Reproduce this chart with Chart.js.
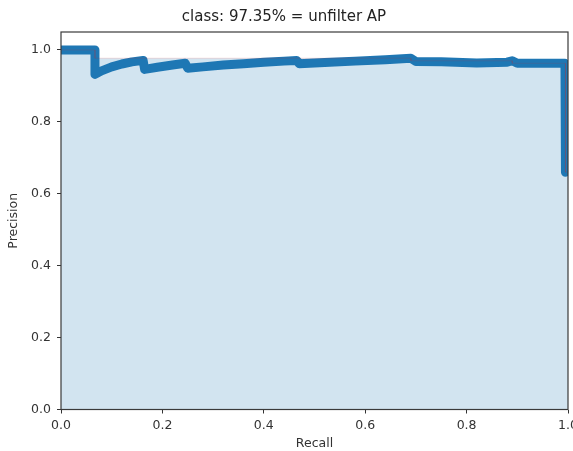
<!DOCTYPE html>
<html>
<head>
<meta charset="utf-8">
<script src="https://cdn.jsdelivr.net/npm/chart.js@4.4.0/dist/chart.umd.min.js"></script>
<style>
  html, body { margin: 0; padding: 0; background: #fff; }
  #wrap { width: 573px; height: 451px; }
</style>
</head>
<body>
<div id="wrap"><canvas id="grafica" width="573" height="451"></canvas></div>
<script>
// ========== DATOS ==========
const titulo = 'class: 97.35% = unfilter AP';

// curva precision-recall
const recall = [0, 0.067, 0.067, 0.08, 0.10, 0.12, 0.14, 0.162, 0.165, 0.19, 0.22, 0.245, 0.25,
  0.28, 0.32, 0.36, 0.40, 0.44, 0.465, 0.47, 0.52, 0.58, 0.64, 0.69, 0.70, 0.75, 0.82,
  0.88, 0.89, 0.90, 0.95, 0.994, 0.995];
const precision = [1.0, 1.0, 0.932, 0.942, 0.953, 0.961, 0.967, 0.971, 0.946, 0.952, 0.958, 0.963, 0.949,
  0.953, 0.958, 0.962, 0.966, 0.969, 0.971, 0.962, 0.965, 0.969, 0.973, 0.977, 0.968, 0.967, 0.964,
  0.966, 0.970, 0.963, 0.963, 0.963, 0.66];

// envolvente (precision interpolada) para el área, en escalones
const recallEnv = [0, 0.067, 0.067, 0.69, 0.69, 0.89, 0.89, 0.995, 0.995, 1.0];
const precisionEnv = [1.0, 1.0, 0.977, 0.977, 0.970, 0.970, 0.963, 0.963, 0.66, 0.66];

const ticksX = [0, 0.2, 0.4, 0.6, 0.8, 1.0];
const ticksY = [0, 0.2, 0.4, 0.6, 0.8, 1.0];

// ========== MARCO DEL GRÁFICO ==========
const marco = {
  id: 'marco',
  afterDatasetsDraw(chart) {
    const { ctx, chartArea: a } = chart;
    ctx.save();
    ctx.strokeStyle = '#3a3a3a';
    ctx.lineWidth = 1.2;
    ctx.strokeRect(a.left, a.top, a.right - a.left, a.bottom - a.top);
    ctx.restore();
  }
};

const fuente = { family: 'DejaVu Sans', size: 12.5 };

new Chart(document.getElementById('grafica'), {
  type: 'line',
  data: {
    datasets: [{
      data: recallEnv.map((r, i) => ({ x: r, y: precisionEnv[i] })),
      fill: 'origin',
      backgroundColor: 'rgba(31, 119, 180, 0.2)',
      borderColor: 'rgba(214, 39, 40, 0.15)',
      borderWidth: 1,
      pointRadius: 0,
      tension: 0,
      clip: 0
    }, {
      data: recall.map((r, i) => ({ x: r, y: precision[i] })),
      borderColor: '#1f77b4',
      borderWidth: 9,
      borderCapStyle: 'round',
      borderJoinStyle: 'round',
      fill: false,
      pointRadius: 0,
      tension: 0,
      clip: 0
    }]
  },
  options: {
    responsive: false,
    animation: false,
    layout: { padding: { left: 0, right: 5, top: 0, bottom: 0 } },
    plugins: {
      legend: { display: false },
      tooltip: { enabled: false },
      title: {
        display: true,
        text: titulo,
        color: '#222',
        font: { family: 'DejaVu Sans', size: 15, weight: 'normal' },
        padding: { top: 8, bottom: 6 }
      }
    },
    scales: {
      x: {
        type: 'linear',
        min: 0,
        max: 1,
        afterFit(s) { s.height = 41.5; s.paddingLeft = 0; s.paddingRight = 0; },
        afterBuildTicks(s) { s.ticks = ticksX.map(v => ({ value: v })); },
        ticks: {
          color: '#333', font: fuente, padding: 5,
          callback: v => v.toFixed(1)
        },
        grid: { drawOnChartArea: false, tickLength: 4, color: '#333' },
        border: { display: false },
        title: { display: true, text: 'Recall', color: '#333', font: fuente, padding: 0 }
      },
      y: {
        type: 'linear',
        min: 0,
        max: 1.05,
        afterFit(s) { s.width = 61; s.paddingTop = 0; s.paddingBottom = 0; },
        afterBuildTicks(s) { s.ticks = ticksY.map(v => ({ value: v })); },
        ticks: {
          color: '#333', font: fuente, padding: 6,
          callback: v => v.toFixed(1)
        },
        grid: { drawOnChartArea: false, tickLength: 4, color: '#333' },
        border: { display: false },
        title: { display: true, text: 'Precision', color: '#333', font: fuente, padding: { top: 6, bottom: 0 } }
      }
    }
  },
  plugins: [marco]
});
</script>
</body>
</html>
